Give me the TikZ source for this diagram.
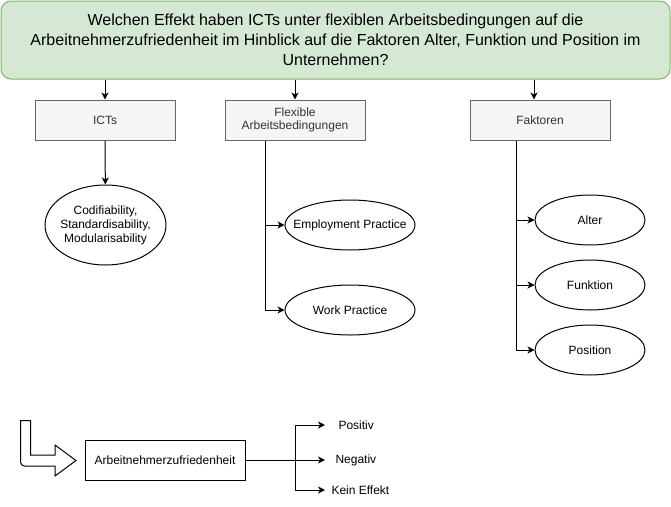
\documentclass[tikz,border=0pt]{standalone}
\usepackage{fontspec}
\setmainfont{Liberation Sans}
\usetikzlibrary{shapes.geometric,arrows.meta}
\definecolor{gfill}{HTML}{D5E8D4}
\definecolor{gdraw}{HTML}{82B366}
\definecolor{bfill}{HTML}{F5F5F5}
\definecolor{bdraw}{HTML}{666666}
\definecolor{btext}{HTML}{333333}
\begin{document}
\begin{tikzpicture}[x=1pt,y=-1pt,line width=1pt,
  title/.style={draw=gdraw,fill=gfill,rounded corners=10pt,minimum width=669pt,minimum height=78pt,align=center,font=\fontsize{16}{20}\selectfont,inner sep=0pt},
  graybox/.style={draw=bdraw,fill=bfill,text=btext,minimum width=140pt,minimum height=40pt,align=center,font=\fontsize{12}{13.5}\selectfont,inner sep=0pt},
  oval/.style={ellipse,draw,fill=white,inner sep=0pt},
  otext/.style={align=center,font=\fontsize{12}{14}\selectfont,inner sep=0pt},
  plainbox/.style={draw,fill=white,minimum width=160pt,minimum height=40pt,font=\fontsize{12}{14}\selectfont,inner sep=0pt},
  lbl/.style={font=\fontsize{12}{14}\selectfont,anchor=west,inner ysep=0pt},
  arr/.style={-{Stealth[length=7pt,width=7pt,inset=2pt]}}]
\useasboundingbox (0,0) rectangle (671,506);
\node[title] (q) at (335.5,40) {Welchen Effekt haben ICTs unter flexiblen Arbeitsbedingungen auf die\\Arbeitnehmerzufriedenheit im Hinblick auf die Faktoren Alter, Funktion und Position im\\Unternehmen?};
\node[graybox] (icts) at (105,120) {ICTs};
\node[graybox] (flex) at (295,120) {Flexible\\Arbeitsbedingungen};
\node[graybox] (fak) at (540,120) {Faktoren};
\node[oval,minimum width=121pt,minimum height=80pt,label={[otext]center:Codifiability,\\Standardisability,\\Modularisability}] (cod) at (105.5,225) {};
\node[oval,minimum width=130pt,minimum height=50pt,label={[otext]center:Employment Practice}] (emp) at (350,225) {};
\node[oval,minimum width=130pt,minimum height=50pt,label={[otext]center:Work Practice}] (work) at (350,310) {};
\node[oval,minimum width=110pt,minimum height=50pt,label={[otext]center:Alter}] (alt) at (590,220) {};
\node[oval,minimum width=110pt,minimum height=50pt,label={[otext]center:Funktion}] (fun) at (590,285) {};
\node[oval,minimum width=110pt,minimum height=50pt,label={[otext]center:Position}] (posi) at (590,350) {};
\draw[arr] (q.south -| icts.north) -- (icts.north);
\draw[arr] (q.south -| flex.north) -- (flex.north);
\draw[arr] ([xshift=-6pt]fak.north |- q.south) -- ([xshift=-6pt]fak.north);
\draw[arr] (icts) -- (cod);
\draw[arr] ([xshift=-30pt]flex.south) |- (emp.west);
\draw[arr] ([xshift=-30pt]flex.south) |- (work.west);
\draw[arr] ([xshift=-24pt]fak.south) |- (alt.west);
\draw[arr] ([xshift=-24pt]fak.south) |- (fun.west);
\draw[arr] ([xshift=-24pt]fak.south) |- (posi.west);
% bottom
\draw[fill=white] (20.5,420.5) [rounded corners=4pt] -- (20.5,466) [sharp corners] -- (55,466) -- (55,476) -- (76,460.5) -- (55,445) -- (55,455) -- (30.5,455) -- (30.5,420.5) -- cycle;
\node[plainbox] (arb) at (165,460) {Arbeitnehmerzufriedenheit};
\coordinate (split) at (295,460);
\node[lbl,inner xsep=13pt] (ppos) at (325,425) {Positiv};
\node[lbl,inner xsep=10pt] (pneg) at (325,460) {Negativ};
\node[lbl,inner xsep=6pt] (pkein) at (325,490) {Kein Effekt};
\draw (arb.east) -- (split);
\draw[arr] (split) |- (ppos.west);
\draw[arr] (split) -- (pneg.west);
\draw[arr] (split) |- (pkein.west);
\end{tikzpicture}
\end{document}
